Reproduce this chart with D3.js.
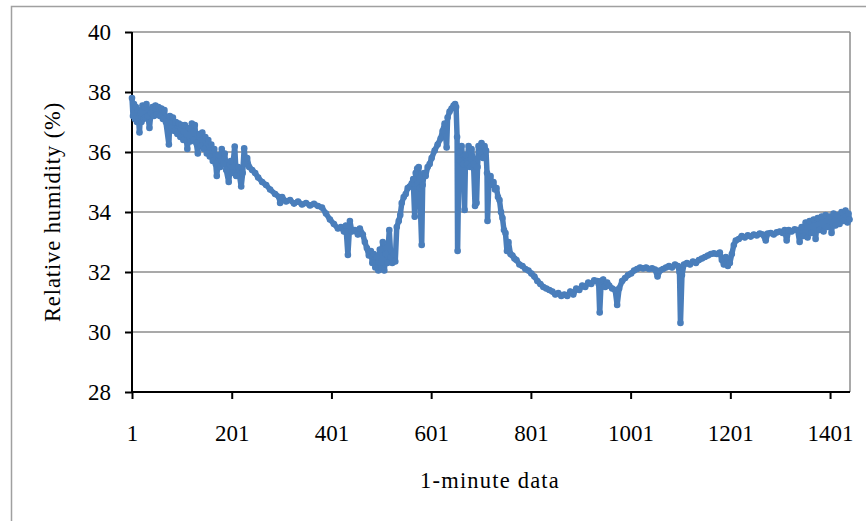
<!DOCTYPE html>
<html>
<head>
<meta charset="utf-8">
<script src="https://cdn.jsdelivr.net/npm/d3@7"></script>
<style>
  body { margin: 0; background: #fff; }
  text { font-family: "Liberation Serif", "Times New Roman", serif; fill: #000; }
</style>
</head>
<body>
<div id="container"></div>
<script>
// minute index of each reading
const minutes = [
  1, 3, 5, 7, 9, 11, 13, 16, 18, 20, 22, 24, 26, 28, 30, 33, 36, 39, 42, 45, 48, 51, 54, 57, 60, 63, 66, 69,
  75, 77, 80, 83, 86, 89, 92, 95, 98, 101, 104, 107, 112, 115, 118, 121, 124, 127, 130, 133, 136, 139, 142,
  145, 148, 151, 154, 157, 160, 163, 166, 169, 171, 175, 178, 181, 184, 187, 190, 195, 199, 202, 207, 210,
  214, 220, 223, 226, 229, 232, 236, 242, 248, 254, 262,
  270, 278, 288, 296, 298, 302, 310, 318, 326, 334, 342, 350, 358, 366, 374, 382, 390, 398, 406, 414, 420,
  426, 430, 434, 438, 442, 448, 454, 458, 464, 468, 472, 476, 480, 483, 486, 489, 492, 495, 498, 501, 504,
  507, 510, 513, 517, 520, 523, 526, 529, 532, 536, 539, 542, 546, 550, 554, 558, 562, 565, 568, 570, 573,
  576, 578, 582, 584, 587, 590, 594, 598, 602, 608, 614, 620, 624, 628, 632, 634, 638, 642, 646, 649, 651,
  653, 654, 657, 659, 662, 665, 668, 670, 673, 676, 679, 682, 686, 689, 692, 694, 696, 699, 702, 705, 708,
  711, 713, 714, 717, 720, 723, 726, 729, 732, 735, 738, 741, 744, 747, 750, 753, 756, 760, 764, 768, 772,
  778, 784, 790, 796, 802, 808, 814, 820, 826, 832, 838, 844, 850, 856, 862, 868, 874, 880, 886, 892, 898,
  904, 910, 916, 922, 928, 934, 937, 939, 942, 946, 950, 954, 958, 964, 970, 974, 978, 984, 990, 996, 1002,
  1008, 1014, 1020, 1026, 1032, 1038, 1044, 1050, 1055, 1060, 1066, 1072, 1078, 1084, 1090, 1096, 1099,
  1101, 1104, 1108, 1114, 1120, 1126, 1132, 1138, 1144, 1150, 1156, 1162, 1168, 1174, 1180, 1184, 1188,
  1192, 1196, 1200, 1204, 1208, 1212, 1218, 1224, 1230, 1236, 1242, 1248, 1254, 1260, 1266, 1272, 1276,
  1282, 1288, 1294, 1300, 1306, 1310, 1314, 1318, 1324, 1330, 1336, 1340, 1344, 1348, 1352, 1356, 1360,
  1364, 1368, 1372, 1376, 1380, 1384, 1388, 1392, 1396, 1400, 1404, 1408, 1412, 1416, 1420, 1424, 1428,
  1432, 1436, 1438, 1440
]

// relative humidity (%)
const humidity = [
  37.8, 37.2, 37.6, 37.1, 37.5, 37.0, 37.4, 36.65, 37.3, 37.0, 37.55, 37.1, 37.5, 37.15, 37.6, 37.2, 36.8,
  37.3, 37.5, 37.2, 37.55, 37.25, 37.5, 37.2, 37.45, 37.1, 37.4, 37.0,
  36.25, 37.2, 36.8, 37.15, 36.7, 37.0, 36.6, 36.95, 36.5, 36.9, 36.4, 36.9, 36.1, 36.8, 36.35, 36.95, 36.4,
  36.9, 36.3, 35.95, 36.6, 36.2, 36.65, 36.1, 36.5, 35.95, 36.4, 35.85, 36.25, 35.7, 36.1, 35.6, 35.2, 35.9,
  35.5, 36.1, 35.6, 35.95, 35.4, 35.0, 35.7, 35.3, 36.18, 35.2, 35.5, 34.85, 35.3, 36.12, 35.6, 35.8, 35.5,
  35.4, 35.3, 35.15, 35.0,
  34.9, 34.75, 34.6, 34.5, 34.3, 34.5, 34.35, 34.4, 34.28, 34.35, 34.25, 34.3, 34.22, 34.27, 34.2, 34.15,
  33.95, 33.75, 33.6, 33.45, 33.5, 33.35, 33.55, 32.57, 33.7, 33.35, 33.4, 33.25, 33.45, 33.25, 33.0, 32.8,
  32.55, 32.7, 32.3, 32.6, 32.15, 32.5, 32.05, 32.75, 32.1, 33.0, 32.05, 32.6, 32.3, 33.4, 32.5, 32.3, 32.6,
  32.35, 33.5, 33.7, 33.9, 34.3, 34.5, 34.6, 34.8, 34.85, 34.95, 35.1, 33.84, 35.3, 35.45, 35.5, 34.8, 32.9,
  34.9, 35.3, 35.2, 35.5, 35.6, 35.8, 36.05, 36.25, 36.45, 36.7, 36.95, 36.15, 37.15, 37.35, 37.45, 37.55,
  37.6, 37.5, 36.5, 32.7, 36.0, 35.7, 36.2, 35.6, 34.07, 35.9, 35.6, 36.2, 35.5, 36.1, 35.6, 34.2, 34.3,
  35.5, 36.2, 36.0, 36.3, 35.8, 36.2, 36.05, 35.3, 33.7, 35.1, 35.2, 34.9, 35.0, 34.75, 34.8, 34.5, 34.4,
  34.0, 33.8, 33.4, 33.3, 32.7, 33.0, 32.6, 32.55, 32.45, 32.4, 32.25, 32.2, 32.1, 32.05, 31.95, 31.85,
  31.7, 31.6, 31.5, 31.45, 31.4, 31.35, 31.25, 31.3, 31.2, 31.25, 31.2, 31.35, 31.25, 31.45, 31.4, 31.55,
  31.5, 31.65, 31.6, 31.72, 31.7, 31.6, 30.65, 31.7, 31.75, 31.5, 31.65, 31.55, 31.45, 31.4, 30.9, 31.45,
  31.7, 31.8, 31.9, 31.95, 32.05, 32.1, 32.15, 32.12, 32.15, 32.1, 32.12, 32.08, 31.85, 32.05, 32.1, 32.15,
  32.2, 32.15, 32.25, 32.2, 32.0, 30.3, 31.9, 32.25, 32.3, 32.25, 32.35, 32.3, 32.4, 32.45, 32.5, 32.55,
  32.6, 32.62, 32.6, 32.65, 32.4, 32.25, 32.5, 32.2, 32.3, 32.6, 32.9, 33.05, 33.1, 33.2, 33.15, 33.22,
  33.18, 33.25, 33.22, 33.28, 33.25, 33.05, 33.28, 33.3, 33.25, 33.32, 33.35, 33.3, 33.4, 33.05, 33.4,
  33.35, 33.42, 33.4, 33.0, 33.5, 33.2, 33.65, 33.15, 33.7, 33.3, 33.75, 33.1, 33.8, 33.4, 33.85, 33.35,
  33.9, 33.5, 33.85, 33.3, 33.95, 33.55, 33.9, 33.6, 34.0, 33.7, 34.05, 33.65, 33.95, 33.75
]

const xTicks = [1, 201, 401, 601, 801, 1001, 1201, 1401]
const yTicks = [28, 30, 32, 34, 36, 38, 40]

const data = minutes.map((m, i) => ({ minute: m, rh: humidity[i] }))

/*==============================================
  CANVAS
===============================================*/
const margin = { top: 32, right: 16, bottom: 129, left: 132 }
const W = 866
const H = 521
const width = W - margin.left - margin.right
const height = H - margin.top - margin.bottom

const svg = d3.select('#container')
  .append('svg')
  .attr('width', W)
  .attr('height', H)

// chart area frame
svg.append('rect')
  .attr('x', 11.5)
  .attr('y', 6.5)
  .attr('width', 900)
  .attr('height', 600)
  .attr('fill', '#fff')
  .attr('stroke', '#a0a0a0')
  .attr('stroke-width', 1.5)

const g = svg.append('g')
  .attr('transform', `translate(${margin.left}, ${margin.top})`)

/*==============================================
  SCALES
===============================================*/
const xScale = d3.scaleLinear()
  .domain([1, 1441])
  .range([0, width])

const yScale = d3.scaleLinear()
  .domain([28, 40])
  .range([height, 0])

/*==============================================
  GRID
===============================================*/
g.append('g')
  .selectAll('line')
  .data(yTicks.filter(d => d > 28))
  .enter()
  .append('line')
  .attr('x1', 0)
  .attr('x2', width)
  .attr('y1', d => yScale(d))
  .attr('y2', d => yScale(d))
  .attr('stroke', '#8c8c8c')
  .attr('stroke-width', 1.5)

// right edge of plot area
g.append('line')
  .attr('x1', width)
  .attr('x2', width)
  .attr('y1', 0)
  .attr('y2', height)
  .attr('stroke', '#8c8c8c')
  .attr('stroke-width', 1.5)

/*==============================================
  AXES
===============================================*/
const yAxis = d3.axisLeft(yScale)
  .tickValues(yTicks)
  .tickSize(7)
  .tickPadding(14)

const xAxis = d3.axisBottom(xScale)
  .tickValues(xTicks)
  .tickFormat(d3.format('d'))
  .tickSize(7)
  .tickPadding(26)

const yG = g.append('g').call(yAxis)
const xG = g.append('g').attr('transform', `translate(0, ${height})`).call(xAxis)

;[yG, xG].forEach(a => {
  a.attr('font-family', null)
  a.select('.domain').attr('stroke', '#000').attr('stroke-width', 2)
  a.selectAll('.tick line').attr('stroke', '#000').attr('stroke-width', 2)
  a.selectAll('.tick text')
    .attr('font-family', '"Liberation Serif", serif')
    .attr('font-size', 23)
    .attr('fill', '#000')
})
xG.select('.domain').attr('d', `M0,0H${width}`)
yG.select('.domain').attr('d', `M0,0V${height}`)

/*==============================================
  LINE + MARKERS
===============================================*/
const line = d3.line()
  .x(d => xScale(d.minute))
  .y(d => yScale(d.rh))

g.append('path')
  .datum(data)
  .attr('d', line)
  .attr('fill', 'none')
  .attr('stroke', '#4a7ebb')
  .attr('stroke-width', 5.5)
  .attr('stroke-linejoin', 'round')
  .attr('stroke-linecap', 'round')

g.append('g')
  .selectAll('circle')
  .data(data)
  .enter()
  .append('circle')
  .attr('cx', d => xScale(d.minute))
  .attr('cy', d => yScale(d.rh))
  .attr('r', 3.3)
  .attr('fill', '#4a7ebb')

/*==============================================
  LABELS
===============================================*/
svg.append('text')
  .attr('x', 490)
  .attr('y', 488)
  .attr('text-anchor', 'middle')
  .attr('font-size', 22.5)
  .attr('letter-spacing', 1.2)
  .text('1-minute data')

svg.append('text')
  .attr('transform', `translate(60, ${margin.top + height / 2}) rotate(-90)`)
  .attr('text-anchor', 'middle')
  .attr('font-size', 22.5)
  .attr('letter-spacing', 0.9)
  .text('Relative humidity (%)')
</script>
</body>
</html>
